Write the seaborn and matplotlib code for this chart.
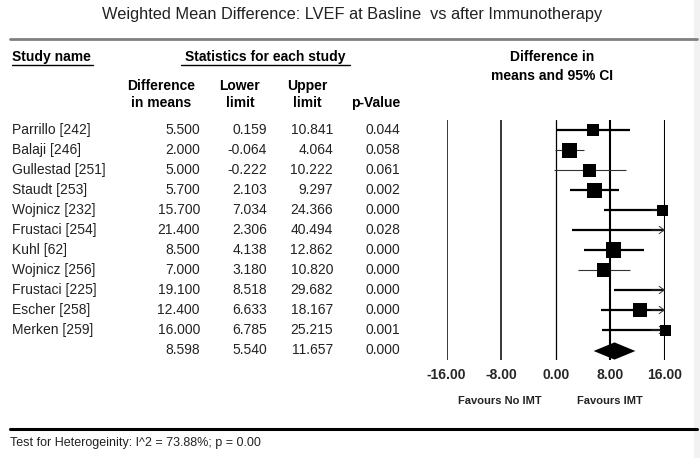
import numpy as np
import pandas as pd
import seaborn as sns
import matplotlib.pyplot as plt
from matplotlib.lines import Line2D
from matplotlib.transforms import blended_transform_factory

# data
studies = ['Parrillo [242]', 'Balaji [246]', 'Gullestad [251]', 'Staudt [253]',
           'Wojnicz [232]', 'Frustaci [254]', 'Kuhl [62]', 'Wojnicz [256]',
           'Frustaci [225]', 'Escher [258]', 'Merken [259]']
diff = [5.5, 2.0, 5.0, 5.7, 15.7, 21.4, 8.5, 7.0, 19.1, 12.4, 16.0]
lower = [0.159, -0.064, -0.222, 2.103, 7.034, 2.306, 4.138, 3.180, 8.518, 6.633, 6.785]
upper = [10.841, 4.064, 10.222, 9.297, 24.366, 40.494, 12.862, 10.820, 29.682, 18.167, 25.215]
pval = [0.044, 0.058, 0.061, 0.002, 0.000, 0.028, 0.000, 0.000, 0.000, 0.000, 0.001]
weight_px = [12, 15, 13, 15, 11, 9, 15, 14, 9, 14, 11]   # box side (relative weight)
pooled = (8.598, 5.540, 11.657, 0.000)
ticks = [-16, -8, 0, 8, 16]

sns.set_theme(style='white')
plt.rcParams['font.family'] = ['Liberation Sans', 'DejaVu Sans']

W, H = 700, 458
fig = plt.figure(figsize=(W / 100, H / 100), dpi=100)
fx = lambda x: x / W
fy = lambda y: 1 - y / H

# forest axes: x -16..16 maps to px 446.7..665, rows 120..360 px
ax = fig.add_axes([fx(446.7), fy(360), (665 - 446.7) / W, 240 / H])
ax.set_xlim(-16, 16)
ax.set_ylim(len(studies) + 0.5, -0.5)
for s in ax.spines.values():
    s.set_visible(False)
ax.set_yticks([])
ax.set_xticks(ticks)
ax.set_xticklabels(['%.2f' % t for t in ticks], fontsize=10, fontweight='bold')
ax.tick_params(axis='x', length=0, pad=6)

for t, lw in zip(ticks, [1.1, 1.1, 0.9, 1.5, 1.5]):
    ax.axvline(t, color='black', lw=lw, zorder=1)

df = pd.DataFrame({'study': studies, 'diff': diff, 'lower': lower, 'upper': upper,
                   'p': pval, 'box': weight_px})
df['row'] = np.arange(len(df))
thin = {'Balaji [246]', 'Gullestad [251]', 'Wojnicz [256]'}

for _, r in df.iterrows():
    lw = 0.8 if r['study'] in thin else 1.6
    col = '#333333' if r['study'] in thin else 'black'
    ax.plot([r['lower'], min(r['upper'], 16)], [r['row'], r['row']], color=col, lw=lw,
            zorder=2, clip_on=False, solid_capstyle='butt')
    if r['upper'] > 16:
        # open chevron where the interval runs off the scale
        ax.annotate('', xy=(16, r['row']), xytext=(14, r['row']),
                    arrowprops=dict(arrowstyle='->,head_length=0.3,head_width=0.22',
                                    lw=0.7, color='#333333', shrinkA=0, shrinkB=0),
                    annotation_clip=False, zorder=2)

shown = df[df['diff'] <= 16].copy()
shown['area'] = (shown['box'] * 0.72) ** 2
sns.scatterplot(data=shown, x='diff', y='row', size='area',
                sizes={a: a for a in shown['area']}, marker='s', color='black',
                linewidth=0, legend=False, ax=ax, zorder=3, clip_on=False)
ax.set_xlabel('')
ax.set_ylabel('')

# pooled diamond
prow = len(studies)
ax.fill([pooled[1], pooled[0], pooled[2], pooled[0]],
        [prow + 0.05, prow - 0.38, prow + 0.05, prow + 0.48], color='black', zorder=3, lw=0)

# table text
tr = blended_transform_factory(fig.transFigure, ax.transData)
tc = '#222222'
for _, r in df.iterrows():
    y = r['row']
    ax.text(fx(12), y, r['study'], transform=tr, ha='left', va='center', fontsize=10, color=tc)
    ax.text(fx(200), y, '%.3f' % r['diff'], transform=tr, ha='right', va='center', fontsize=10, color=tc)
    ax.text(fx(267), y, '%.3f' % r['lower'], transform=tr, ha='right', va='center', fontsize=10, color=tc)
    ax.text(fx(333), y, '%.3f' % r['upper'], transform=tr, ha='right', va='center', fontsize=10, color=tc)
    ax.text(fx(400), y, '%.3f' % r['p'], transform=tr, ha='right', va='center', fontsize=10, color=tc)
for xx, v in zip([200, 267, 333, 400], pooled):
    ax.text(fx(xx), prow, '%.3f' % v, transform=tr, ha='right', va='center', fontsize=10, color=tc)

# headers
fig.text(fx(352), fy(15), 'Weighted Mean Difference: LVEF at Basline  vs after Immunotherapy',
         ha='center', va='center', fontsize=11.8, color=tc)
fig.add_artist(Line2D([fx(10), fx(697)], [fy(39), fy(39)], color='#808080', lw=2))

hb = dict(fontsize=10, fontweight='bold', color='black', va='center')
fig.text(fx(12), fy(57), 'Study name', ha='left', **hb)
fig.add_artist(Line2D([fx(12), fx(93)], [fy(65), fy(65)], color='black', lw=1))
fig.text(fx(265), fy(57), 'Statistics for each study', ha='center', **hb)
fig.add_artist(Line2D([fx(181), fx(350)], [fy(65), fy(65)], color='black', lw=1))
fig.text(fx(552), fy(57), 'Difference in', ha='center', **hb)
fig.text(fx(552), fy(76), 'means and 95% CI', ha='center', **hb)
fig.text(fx(161), fy(86), 'Difference', ha='center', **hb)
fig.text(fx(161), fy(103), 'in means', ha='center', **hb)
fig.text(fx(240), fy(86), 'Lower', ha='center', **hb)
fig.text(fx(240), fy(103), 'limit', ha='center', **hb)
fig.text(fx(307), fy(86), 'Upper', ha='center', **hb)
fig.text(fx(307), fy(103), 'limit', ha='center', **hb)
fig.text(fx(376), fy(103), 'p-Value', ha='center', **hb)

fig.text(fx(500), fy(401), 'Favours No IMT', ha='center', va='center', fontsize=8, fontweight='bold', color=tc)
fig.text(fx(610), fy(401), 'Favours IMT', ha='center', va='center', fontsize=8, fontweight='bold', color=tc)

fig.add_artist(Line2D([fx(10), fx(697)], [fy(429), fy(429)], color='black', lw=2.2))
fig.text(fx(10), fy(443), 'Test for Heterogeinity: I^2 = 73.88%; p = 0.00',
         ha='left', va='center', fontsize=9, color=tc)

# light strip at right edge
fig.add_artist(plt.Rectangle((fx(694), 0), fx(6), 1, color='#f2f2f2', lw=0))

fig.savefig('out.png', dpi=100)
